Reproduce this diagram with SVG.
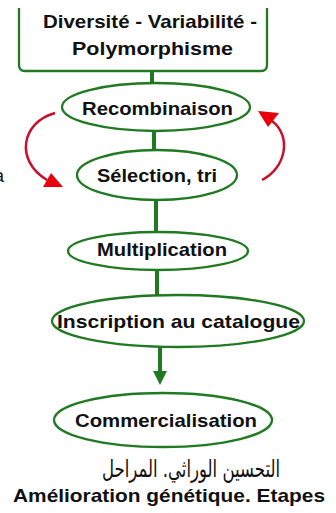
<svg xmlns="http://www.w3.org/2000/svg" width="336" height="513" viewBox="0 0 336 513">
<defs>
<style>
.node{fill:#fff;stroke:#1f7a22;stroke-width:2.3}
.lbl{font-family:"Liberation Sans",Arial,sans-serif;font-weight:bold;font-size:18.5px;fill:#111;text-anchor:middle}
.conn{stroke:#1f7a22;stroke-width:4;fill:none}
.red{stroke:#c8102e;stroke-width:2.5;fill:none}
.redhead{fill:#e8000b}
</style>
</defs>
<rect width="336" height="513" fill="#fff"/>
<g id="connectors">
<line class="conn" x1="152" y1="71" x2="152" y2="84"/>
<line class="conn" x1="154" y1="131" x2="154" y2="150"/>
<line class="conn" x1="156" y1="200" x2="156" y2="232"/>
<line class="conn" x1="157" y1="270" x2="157" y2="295"/>
<line class="conn" x1="160" y1="347" x2="160" y2="373"/>
<polygon points="153,371 167,371 160,385" fill="#1f7a22"/>
<path class="red" d="M55,113 C22,122 14,160 47,180"/>
<polygon class="redhead" points="43,187 51,173 63,187"/>
<path class="red" d="M262,180 C286,168 292,136 272,121"/>
<polygon class="redhead" points="258,111 279,113 268,127"/>
</g>
<g id="node-diversite">
<path class="node" d="M19,8 V65 Q19,71 25,71 H261 Q267,71 267,65 V8"/>
<text class="lbl" x="150" y="28" textLength="214" lengthAdjust="spacingAndGlyphs">Diversité - Variabilité -</text>
<text class="lbl" x="152.5" y="55" textLength="161" lengthAdjust="spacingAndGlyphs">Polymorphisme</text>
</g>
<g id="node-recombinaison">
<ellipse class="node" cx="156" cy="107" rx="94" ry="24"/>
<text class="lbl" x="157.5" y="115" textLength="151" lengthAdjust="spacingAndGlyphs">Recombinaison</text>
</g>
<g id="node-selection">
<ellipse class="node" cx="157" cy="175" rx="80" ry="25"/>
<text class="lbl" x="157" y="182" textLength="120" lengthAdjust="spacingAndGlyphs">Sélection, tri</text>
</g>
<g id="node-multiplication">
<ellipse class="node" cx="158" cy="251" rx="90" ry="19"/>
<text class="lbl" x="162" y="256" textLength="130" lengthAdjust="spacingAndGlyphs">Multiplication</text>
</g>
<g id="node-inscription">
<ellipse class="node" cx="178" cy="321" rx="126" ry="26"/>
<text class="lbl" x="178.5" y="328" textLength="243" lengthAdjust="spacingAndGlyphs">Inscription au catalogue</text>
</g>
<g id="node-commercialisation">
<ellipse class="node" cx="163" cy="420" rx="109" ry="27"/>
<text class="lbl" x="166" y="427" textLength="182" lengthAdjust="spacingAndGlyphs">Commercialisation</text>
</g>
<text x="-6" y="182" font-family="Liberation Sans, Arial, sans-serif" font-size="18" fill="#111">a</text>
<text x="191" y="477" font-family="DejaVu Sans, Noto Sans, sans-serif" font-size="24" fill="#111" text-anchor="middle" direction="rtl" textLength="178" lengthAdjust="spacingAndGlyphs">التحسين الوراثي. المراحل</text>
<text class="lbl" x="169" y="502" textLength="312" lengthAdjust="spacingAndGlyphs">Amélioration génétique. Etapes</text>
</svg>
